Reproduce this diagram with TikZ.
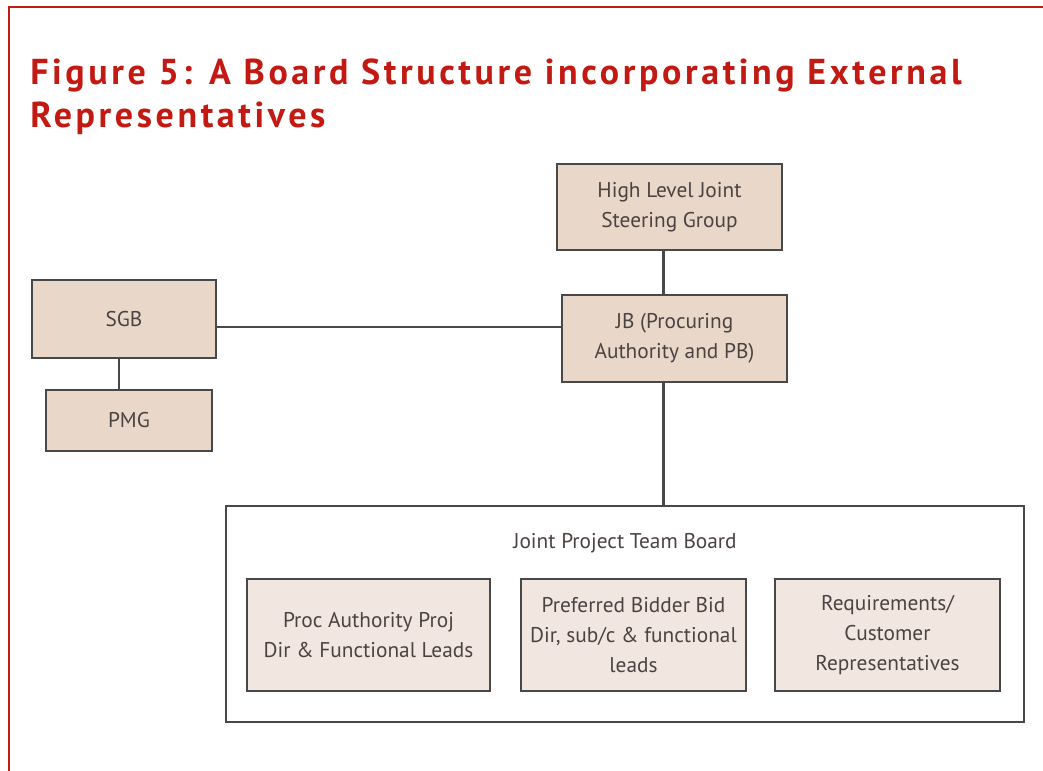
\documentclass[tikz,border=0pt]{standalone}
\usepackage{fontspec}
\setmainfont{PT Sans}
\newfontfamily\titlefont[LetterSpace=10]{PT Sans}
\usetikzlibrary{calc}
\definecolor{framered}{HTML}{C21A12}
\definecolor{boxfill}{HTML}{E9D7CA}
\definecolor{cellfill}{HTML}{F2E7E0}
\definecolor{linegray}{HTML}{484848}
\definecolor{textgray}{HTML}{4A4341}

\begin{document}
\begin{tikzpicture}[x=0.75pt,y=-0.75pt,
        box/.style={draw=linegray, line width=1.5pt, fill=boxfill, text=textgray, align=center, inner sep=2pt, font=\fontsize{16}{22.5}\selectfont},
        cell/.style={box, fill=cellfill},
        link/.style={draw=linegray, line width=1.6pt}]
        \useasboundingbox (0,0) rectangle (1043,771);
        \draw[framered, line width=1.5pt](9,771)--(9,7)--(1043,7);
        \node[anchor=north west, text=framered, align=left, inner sep=0pt, font=\titlefont\bfseries\fontsize{27}{32}\selectfont](title) at (30,59) {Figure 5: A Board Structure incorporating External\\Representatives};

        \node[box, minimum width=168.75pt, minimum height=64.5pt](hl) at (669.5,207) {High Level Joint\\Steering Group};
        \node[box, minimum width=168.75pt, minimum height=65.25pt](jb) at (674.5,338.5) {JB (Procuring\\Authority and PB)};
        \node[box, minimum width=138pt, minimum height=58.5pt](sgb) at (124,319) {SGB};
        \node[box, minimum width=124.5pt, minimum height=45.75pt](pmg) at (129,420.5) {PMG};

        \node[box, fill=white, minimum width=598.5pt, minimum height=162pt](jpt) at (625,614) {};
        \node[text=textgray, font=\fontsize{16}{22.5}\selectfont](jptlabel) at (625,543) {Joint Project Team Board};
        \node[cell, minimum width=182.25pt, minimum height=84pt](pa) at (368.5,635) {Proc Authority Proj\\Dir \& Functional Leads};
        \node[cell, minimum width=168.75pt, minimum height=84pt](pbd) at (633.5,635) {Preferred Bidder Bid\\Dir, sub/c \& functional\\leads};
        \node[cell, minimum width=168.75pt, minimum height=84pt](req) at (887.5,635) {Requirements/\\Customer\\Representatives};

        \draw[link]([xshift=-4.5pt]hl.south)--([xshift=-4.5pt]hl.south |- jb.north);
        \draw[link]([xshift=-8.25pt]jb.south)--([xshift=-8.25pt]jb.south |- jpt.north);
        \draw[link]([yshift=-6pt]sgb.east)--([yshift=-6pt]sgb.east -| jb.west);
        \draw[link]([xshift=-3.75pt]sgb.south)--([xshift=-3.75pt]sgb.south |- pmg.north);
    \end{tikzpicture}
\end{document}
